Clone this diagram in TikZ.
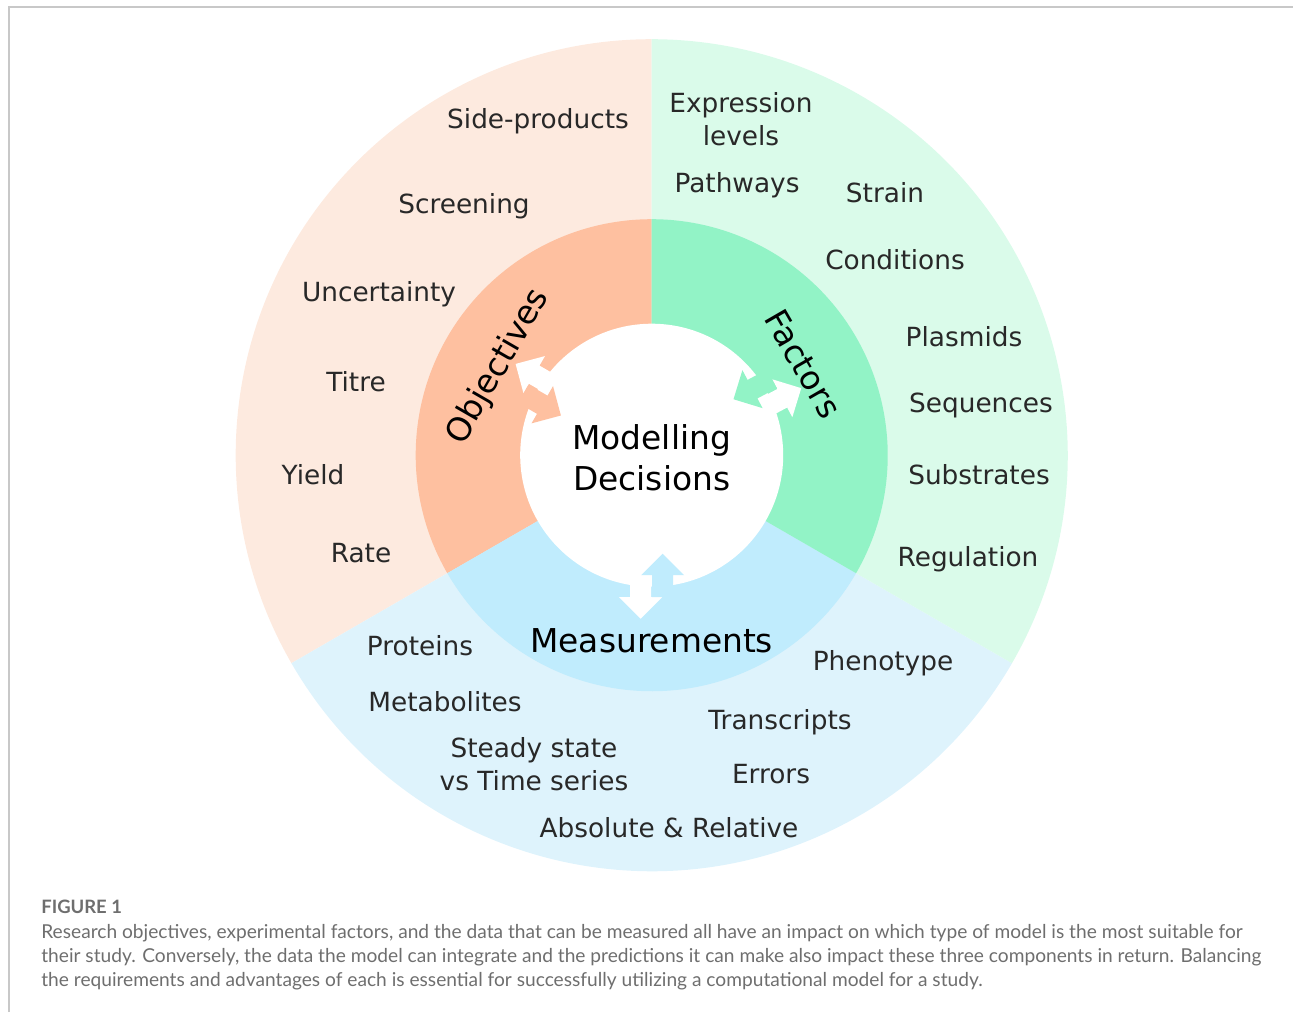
\documentclass[tikz,border=0pt]{standalone}
\usepackage{fontspec}
\setmainfont{DejaVu Sans}
\newfontfamily\capfont{Lato}
\usetikzlibrary{positioning}

\definecolor{objpale}{RGB}{253,234,223}
\definecolor{objfill}{RGB}{254,192,160}
\definecolor{facpale}{RGB}{218,251,234}
\definecolor{facfill}{RGB}{146,243,198}
\definecolor{mespale}{RGB}{222,243,252}
\definecolor{mesfill}{RGB}{192,236,253}
\definecolor{ink}{RGB}{40,40,40}
\definecolor{capgrey}{RGB}{110,110,110}
\definecolor{framegrey}{RGB}{200,200,200}

\tikzset{
    x=0.02cm, y=0.02cm,
    item/.style = {text=ink, font=\fontsize{15}{18.4}\selectfont, align=center, inner sep=0pt},
    part/.style = {text=black, font=\fontsize{18.7}{23.3}\selectfont, align=center, inner sep=0pt},
    legend/.style = {text=capgrey, inner sep=0pt, align=left},
    pics/twoway/.style = {code={
        % white arrow points out of the hub, coloured one points back in
        \fill[white] (120.5,-21.5) -- (142,-21.5) -- (142,-32.5) -- (163.5,-11)
            -- (142,10.5) -- (142,-0.5) -- (120.5,-0.5) -- cycle;
        \fill[#1] (142,0.5) -- (120,0.5) -- (120,-10.5) -- (98.5,11)
            -- (120,32.5) -- (120,21.5) -- (142,21.5) -- cycle;
    }}
}

\begin{document}
\begin{tikzpicture}

    \useasboundingbox (-651.7,-556.8) rectangle (641.3,455.2);
    \draw[framegrey, line width=1.1pt] (-642.7,-556.8) -- (-642.7,448.2) -- (641.3,448.2);

    % outer ring
    \fill[objpale] (0,0) -- (90:416) arc[start angle=90, end angle=210, radius=416] -- cycle;
    \fill[mespale] (0,0) -- (210:416) arc[start angle=210, end angle=330, radius=416] -- cycle;
    \fill[facpale] (0,0) -- (-30:416) arc[start angle=-30, end angle=90, radius=416] -- cycle;

    % inner ring
    \fill[objfill] (0,0) -- (90:236) arc[start angle=90, end angle=210, radius=236] -- cycle;
    \fill[mesfill] (0,0) -- (210:236) arc[start angle=210, end angle=330, radius=236] -- cycle;
    \fill[facfill] (0,0) -- (-30:236) arc[start angle=-30, end angle=90, radius=236] -- cycle;

    \fill[white] (0,0) circle[radius=131.5];

    % double arrows between hub and ring
    \path (0,0) pic[rotate=150] {twoway=objfill};
    \path (0,0) pic[rotate=28] {twoway=facfill};
    \path (0,0) pic[rotate=270] {twoway=mesfill};

    \node[part] (hub) at (0,-3) {Modelling\\Decisions};
    \node[part, rotate=60] (obj) at (150:177) {Objectives};
    \node[part, rotate=-60] (fac) at (31:177) {Factors};
    \node[part] (mes) at (0,-186) {Measurements};

    % objectives
    \node[item] (sideprod) at (-113.7,334) {Side-products};
    \node[item] (screening) at (-187.7,249) {Screening};
    \node[item] (uncert) at (-272.7,161) {Uncertainty};
    \node[item] (titre) at (-295.7,74) {Titre};
    \node[item] (yield) at (-338.7,-19) {Yield};
    \node[item] (rate) at (-290.7,-98) {Rate};

    % factors
    \node[item] (expr) at (89.3,336) {Expression\\levels};
    \node[item] (pathways) at (85.3,270) {Pathways};
    \node[item] (strain) at (233.3,263) {Strain};
    \node[item] (cond) at (243.3,196) {Conditions};
    \node[item] (plasmids) at (312.3,118.5) {Plasmids};
    \node[item] (seqs) at (329.3,50) {Sequences};
    \node[item] (substr) at (327.3,-19.5) {Substrates};
    \node[item] (regul) at (316.3,-104) {Regulation};

    % measurements
    \node[item] (proteins) at (-231.7,-190.5) {Proteins};
    \node[item] (metab) at (-206.7,-246.5) {Metabolites};
    \node[item] (steady) at (-117.7,-309) {Steady state\\vs Time series};
    \node[item] (pheno) at (231.3,-208) {Phenotype};
    \node[item] (transcr) at (128.3,-267) {Transcripts};
    \node[item] (errors) at (119.3,-318.5) {Errors};
    \node[item] (absrel) at (17.3,-372.5) {Absolute \& Relative};

    % caption
    \node[legend, anchor=west, font=\capfont\bfseries\fontsize{10.5}{12}\selectfont] (fignum) at (-610.7,-451.8) {FIGURE 1};
    \node[legend, font=\capfont\fontsize{10.9}{13.6}\selectfont, below right=5.5pt and 0pt of fignum.south west] (caption)
        {Research objectives, experimental factors, and the data that can be measured all have an impact on which type of model is the most suitable for\\
         their study. Conversely, the data the model can integrate and the predictions it can make also impact these three components in return. Balancing\\
         the requirements and advantages of each is essential for successfully utilizing a computational model for a study.};

\end{tikzpicture}
\end{document}
